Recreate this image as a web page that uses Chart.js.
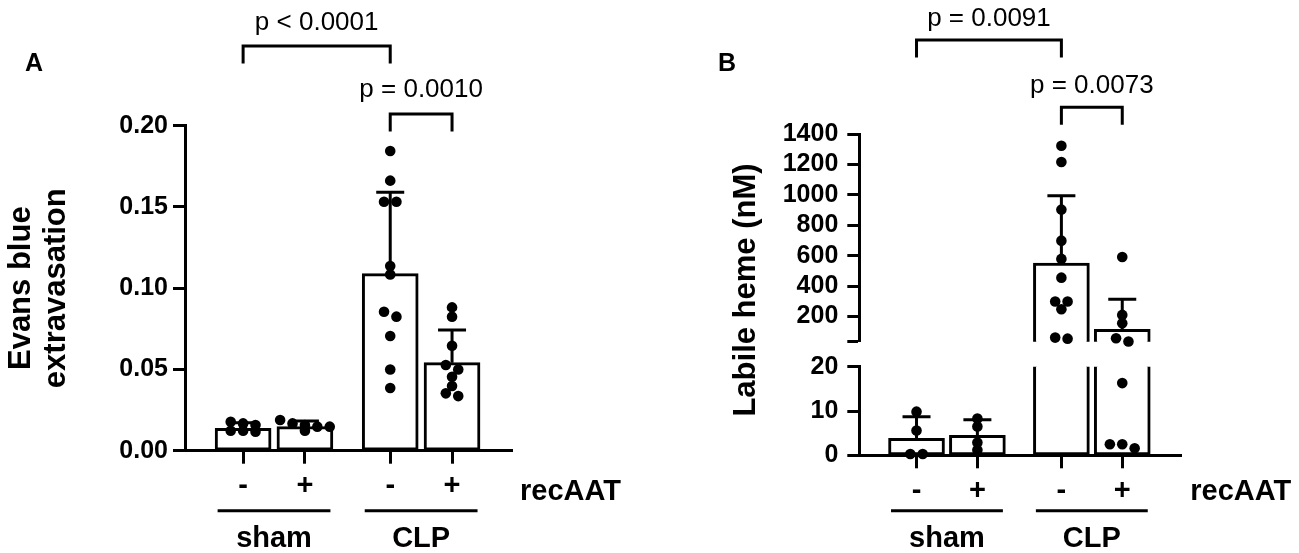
<!DOCTYPE html>
<html>
<head>
<meta charset="utf-8">
<title>Evans blue extravasation and labile heme</title>
<script src="https://cdn.jsdelivr.net/npm/chart.js@4.4.1/dist/chart.umd.min.js"></script>
<style>
  html, body { margin: 0; padding: 0; background: #fff; }
  #wrap { position: relative; width: 1299px; height: 553px; overflow: hidden; }
  canvas { position: absolute; top: 0; }
</style>
</head>
<body>
<div id="wrap">
  <canvas id="chartA" width="650" height="553" style="left:0"></canvas>
  <canvas id="chartBHigh" width="649" height="553" style="left:650px"></canvas>
  <canvas id="chartBLow" width="649" height="553" style="left:650px"></canvas>
</div>
<script>
// groups
const treatment = ['-', '+', '-', '+'];
const groupNames = ['sham', 'CLP'];
const factorName = 'recAAT';

// panel A - Evans blue extravasation
const meanA = [0.0138, 0.0148, 0.109, 0.0542];
const sdA = [0.0034, 0.0035, 0.050, 0.0201];
const shamMinusA = [0.0178, 0.0168, 0.0158, 0.0123, 0.0123, 0.0117];
const shamPlusA = [0.0189, 0.0168, 0.0158, 0.0148, 0.0148, 0.0123];
const clpMinusA = [0.1844, 0.1662, 0.1532, 0.1532, 0.1136, 0.1085, 0.0855, 0.0825, 0.0706, 0.05, 0.0386];
const clpPlusA = [0.0882, 0.0825, 0.0646, 0.0527, 0.05, 0.0455, 0.0398, 0.0353, 0.0336];
const ticksA = [0, 0.05, 0.10, 0.15, 0.20];
const pValuesA = ['p < 0.0001', 'p = 0.0010'];

// panel B - labile heme (nM), axis broken between 20 and 35
const meanB = [3.83, 4.5, 552, 117];
const sdB = [4.87, 3.5, 443, 197];
const shamMinusB = [9.85, 5.6, 0.3, 0.3];
const shamPlusB = [8.3, 6.5, 2.9, 1.2];
const clpMinusB = [1323, 1216, 903, 699, 579, 456, 299, 299, 248, 62, 55];
const clpPlusB = [592, 211, 156, 58, 36, 16.3, 2.5, 2.5, 1.6];
const ticksBLow = [0, 10, 20];
const ticksBHigh = [200, 400, 600, 800, 1000, 1200, 1400];
const breakB = 35;
const pValuesB = ['p = 0.0091', 'p = 0.0073'];

// comparisons drawn as brackets (group indexes)
const comparisons = [[0, 2], [2, 3]];

// x layout: bars of a group sit closer than the two groups
const xPos = [1, 2, 3.38, 4.38];
const FONT = '"Liberation Sans", Arial, sans-serif';

Chart.defaults.font.family = FONT;
Chart.defaults.color = '#000';

function yScale(ticks, min, max, width, pad, labelFn, title) {
  return {
    type: 'linear', min: min, max: max,
    afterFit: s => { s.width = width; },
    afterBuildTicks: s => { s.ticks = ticks.map(v => ({ value: v })); },
    border: { display: true, color: '#000', width: 3 },
    grid: { drawOnChartArea: false, drawTicks: true, tickLength: 12, tickWidth: 3, tickColor: '#000' },
    ticks: { font: { size: 25, weight: 'bold' }, color: '#000', padding: pad, autoSkip: false, callback: labelFn },
    title: title || { display: false }
  };
}

function xScale(show, height) {
  return {
    type: 'linear', min: 0.06, max: 5.35, display: show, offset: false,
    afterFit: s => { s.height = height; },
    afterBuildTicks: s => { s.ticks = xPos.map(v => ({ value: v })); },
    border: { display: true, color: '#000', width: 3 },
    grid: { drawOnChartArea: false, drawTicks: true, tickLength: 13, tickWidth: 3, tickColor: '#000', offset: false },
    ticks: {
      font: { size: 29, weight: 'bold' }, color: '#000', padding: 5,
      maxRotation: 0, autoSkip: false, callback: (v, i) => treatment[i]
    }
  };
}

function datasets(means) {
  return [
    { type: 'scatter', data: [], backgroundColor: '#000', pointRadius: 5.3, pointHoverRadius: 5.3,
      borderWidth: 0, order: 0, clip: false },
    { type: 'bar', data: means.map((m, i) => ({ x: xPos[i], y: m })), backgroundColor: '#fff',
      borderColor: '#000', borderWidth: 3, borderSkipped: false, barThickness: 56, order: 1, clip: 0 }
  ];
}

// mean + SD, upper whisker only, cut to the visible part of the axis
function errorBars(means, sd) {
  return {
    id: 'errorBars',
    afterDatasetDraw(chart, args) {
      if (args.meta.type !== 'bar') return;
      const x = chart.scales.x, y = chart.scales.y, ctx = chart.ctx;
      ctx.save();
      ctx.strokeStyle = '#000';
      ctx.lineWidth = 3;
      means.forEach((m, i) => {
        const top = m + sd[i];
        const lo = Math.max(m, y.min), hi = Math.min(top, y.max);
        if (lo >= hi) return;
        const px = x.getPixelForValue(xPos[i]);
        ctx.beginPath();
        ctx.moveTo(px, y.getPixelForValue(lo));
        ctx.lineTo(px, y.getPixelForValue(hi));
        if (top <= y.max) {
          const py = y.getPixelForValue(top);
          ctx.moveTo(px - 14, py);
          ctx.lineTo(px + 14, py);
        }
        ctx.stroke();
      });
      ctx.restore();
    }
  };
}

function decor(cfg) {
  return {
    id: 'decor',
    afterDraw(chart) {
      const ctx = chart.ctx, x = chart.scales.x;
      ctx.save();
      ctx.fillStyle = '#000';
      ctx.strokeStyle = '#000';
      ctx.lineWidth = 3;
      ctx.lineJoin = 'miter';
      if (cfg.letter) {
        ctx.font = 'bold 25px ' + FONT;
        ctx.textAlign = 'center';
        ctx.textBaseline = 'alphabetic';
        ctx.fillText(cfg.letter.text, cfg.letter.x, cfg.letter.y);
      }
      (cfg.brackets || []).forEach(b => {
        const x1 = x.getPixelForValue(xPos[b.from]), x2 = x.getPixelForValue(xPos[b.to]);
        ctx.beginPath();
        ctx.moveTo(x1, b.y + 17.5);
        ctx.lineTo(x1, b.y);
        ctx.lineTo(x2, b.y);
        ctx.lineTo(x2, b.y + 17.5);
        ctx.stroke();
        ctx.font = '26px ' + FONT;
        ctx.textAlign = 'center';
        ctx.textBaseline = 'alphabetic';
        ctx.fillText(b.text, (x1 + x2) / 2, b.textY);
      });
      if (cfg.ytitle) {
        ctx.save();
        ctx.translate(cfg.ytitle.x, cfg.ytitle.y);
        ctx.rotate(-Math.PI / 2);
        ctx.font = 'bold 31px ' + FONT;
        ctx.textAlign = 'center';
        ctx.textBaseline = 'middle';
        ctx.fillText(cfg.ytitle.text, 0, 0);
        ctx.restore();
      }
      if (cfg.groups) {
        ctx.font = 'bold 29px ' + FONT;
        ctx.textBaseline = 'alphabetic';
        groupNames.forEach((name, g) => {
          const a = x.getPixelForValue(xPos[2 * g]) - 25.5;
          const b = x.getPixelForValue(xPos[2 * g + 1]) + 25.5;
          ctx.beginPath();
          ctx.moveTo(a, 510.7);
          ctx.lineTo(b, 510.7);
          ctx.stroke();
          ctx.textAlign = 'center';
          ctx.fillText(name, (a + b) / 2, 546.5);
        });
        ctx.textAlign = 'left';
        ctx.fillText(factorName, x.getPixelForValue(xPos[3]) + 68, cfg.factorY);
      }
      ctx.restore();
    }
  };
}

function baseOptions(padding, scales) {
  return {
    responsive: false, animation: false, devicePixelRatio: 1, events: [],
    layout: { padding: padding },
    plugins: { legend: { display: false }, tooltip: { enabled: false } },
    scales: scales
  };
}

// beeswarm: points closer than a dot are spread side by side
function placePoints(chart, groups, keep) {
  const xs = chart.scales.x, ys = chart.scales.y;
  const unit = xs.getPixelForValue(1) - xs.getPixelForValue(0);
  const out = [];
  groups.forEach((vals, g) => {
    const pts = vals.filter(keep).slice().sort((a, b) => b - a);
    let i = 0;
    while (i < pts.length) {
      const y0 = ys.getPixelForValue(pts[i]);
      let j = i + 1;
      while (j < pts.length && ys.getPixelForValue(pts[j]) - y0 < 7) j++;
      const n = j - i;
      for (let k = 0; k < n; k++) {
        out.push({ x: xPos[g] + (k - (n - 1) / 2) * 12.4 / unit, y: pts[i + k] });
      }
      i = j;
    }
  });
  return out;
}

const pointsA = [shamMinusA, shamPlusA, clpMinusA, clpPlusA];
const pointsB = [shamMinusB, shamPlusB, clpMinusB, clpPlusB];

const chartA = new Chart(document.getElementById('chartA'), {
  type: 'bar',
  data: { datasets: datasets(meanA) },
  options: baseOptions({ top: 125.7, right: 138, bottom: 0, left: 0 }, {
    x: xScale(true, 102.3),
    y: yScale(ticksA, 0, 0.2, 185, 5, v => v.toFixed(2), {
      display: true, text: ['Evans blue', 'extravasation'], color: '#000',
      font: { size: 31, weight: 'bold', lineHeight: 1.13 }, padding: { top: 3.5, bottom: 0 }
    })
  }),
  plugins: [errorBars(meanA, sdA), decor({
    letter: { text: 'A', x: 34, y: 71 },
    brackets: [
      { from: comparisons[0][0], to: comparisons[0][1], y: 46, textY: 30, text: pValuesA[0] },
      { from: comparisons[1][0], to: comparisons[1][1], y: 114, textY: 97, text: pValuesA[1] }
    ],
    groups: true, factorY: 499.5
  })]
});

const chartBHigh = new Chart(document.getElementById('chartBHigh'), {
  type: 'bar',
  data: { datasets: datasets(meanB) },
  options: baseOptions({ top: 134, right: 117.7, bottom: 211.3, left: 0 }, {
    x: xScale(false, 0),
    y: yScale([breakB].concat(ticksBHigh), breakB, ticksBHigh[ticksBHigh.length - 1], 209.3, 9,
      v => (v === breakB ? '' : String(v)))
  }),
  plugins: [errorBars(meanB, sdB), decor({
    letter: { text: 'B', x: 77, y: 71 },
    brackets: [
      { from: comparisons[0][0], to: comparisons[0][1], y: 40, textY: 26, text: pValuesB[0] },
      { from: comparisons[1][0], to: comparisons[1][1], y: 107.3, textY: 93, text: pValuesB[1] }
    ],
    ytitle: { text: 'Labile heme (nM)', x: 96, y: 290 }
  })]
});

const chartBLow = new Chart(document.getElementById('chartBLow'), {
  type: 'bar',
  data: { datasets: datasets(meanB) },
  options: baseOptions({ top: 366.7, right: 117.7, bottom: 0, left: 0 }, {
    x: xScale(true, 97.7),
    y: yScale(ticksBLow, 0, ticksBLow[ticksBLow.length - 1], 209.3, 9, v => String(v))
  }),
  plugins: [errorBars(meanB, sdB), decor({ groups: true, factorY: 500 })]
});

chartA.data.datasets[0].data = placePoints(chartA, pointsA, () => true);
chartA.update('none');
chartBHigh.data.datasets[0].data = placePoints(chartBHigh, pointsB, v => v >= breakB);
chartBHigh.update('none');
chartBLow.data.datasets[0].data = placePoints(chartBLow, pointsB, v => v <= ticksBLow[ticksBLow.length - 1]);
chartBLow.update('none');
</script>
</body>
</html>
